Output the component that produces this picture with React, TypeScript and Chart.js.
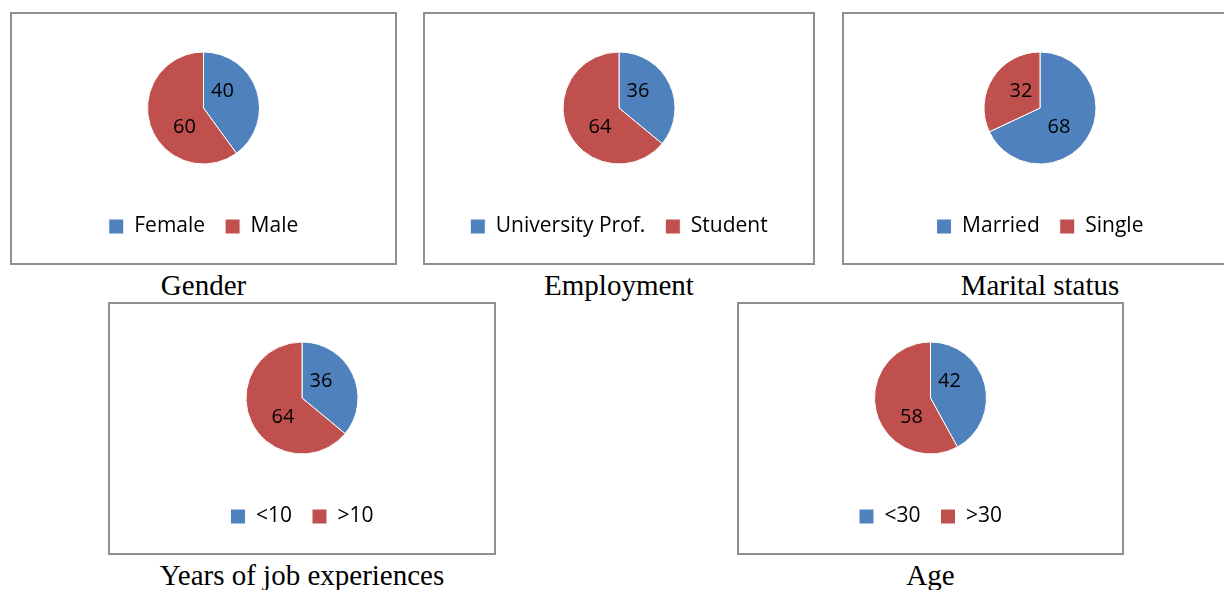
import React, { useEffect, useRef } from "react";
import { Chart, registerables } from "chart.js";

Chart.register(...registerables);

// ---- Data ----
const genderLabels = ["Female", "Male"];
const genderValues = [40, 60];

const employmentLabels = ["University Prof.", "Student"];
const employmentValues = [36, 64];

const maritalLabels = ["Married", "Single"];
const maritalValues = [68, 32];

const experienceLabels = ["<10", ">10"];
const experienceValues = [36, 64];

const ageLabels = ["<30", ">30"];
const ageValues = [42, 58];

const captions = ["Gender", "Employment", "Marital status", "Years of job experiences", "Age"];

const sliceColors = ["#4F81BD", "#C0504D"];

const FONT = "'Open Sans', 'Noto Sans', sans-serif";

const sliceLabelPlugin = {
  id: "sliceLabels",
  afterDatasetsDraw(chart: any) {
    const ctx = chart.ctx;
    const meta = chart.getDatasetMeta(0);
    const values = chart.data.datasets[0].data;
    ctx.save();
    ctx.font = `20px ${FONT}`;
    ctx.fillStyle = "#000";
    ctx.textAlign = "center";
    ctx.textBaseline = "middle";
    meta.data.forEach((arc: any, i: number) => {
      const { x, y, startAngle, endAngle, outerRadius } = arc.getProps(
        ["x", "y", "startAngle", "endAngle", "outerRadius"],
        true
      );
      const mid = (startAngle + endAngle) / 2;
      const sx = Math.cos(mid) >= 0 ? 1 : -1;
      const sy = Math.sin(mid) >= 0 ? 1 : -1;
      const lx = x + sx * outerRadius * 0.34;
      const ly = y + sy * outerRadius * 0.32 + 1;
      ctx.fillText(String(values[i]), lx, ly);
    });
    ctx.restore();
  },
};

type PieProps = {
  labels: string[];
  values: number[];
  left: number;
  top: number;
  width: number;
  height: number;
  caption: string;
};

function PieBox({ labels, values, left, top, width, height, caption }: PieProps) {
  const ref = useRef<HTMLCanvasElement | null>(null);
  useEffect(() => {
    if (!ref.current) return;
    const chart = new Chart(ref.current, {
      type: "pie",
      data: {
        labels,
        datasets: [
          {
            data: values,
            backgroundColor: sliceColors,
            borderColor: "#ffffff",
            borderWidth: 1,
            radius: 56,
          } as any,
        ],
      },
      options: {
        animation: false,
        responsive: false,
        maintainAspectRatio: false,
        layout: { padding: { top: 6, bottom: 16, left: 0, right: 0 } },
        plugins: {
          legend: {
            display: true,
            position: "bottom",
            labels: {
              boxWidth: 15,
              boxHeight: 15,
              padding: 20,
              color: "#000",
              font: { family: FONT, size: 21 },
            },
          },
          tooltip: { enabled: false },
        },
      },
      plugins: [sliceLabelPlugin],
    });
    return () => chart.destroy();
  }, []);

  const innerW = width - 4;
  const innerH = height - 4;
  return (
    <>
      <div
        style={{
          position: "absolute",
          left,
          top,
          width: innerW,
          height: innerH,
          border: "2px solid #8f8f8f",
          background: "#fff",
        }}
      >
        <canvas ref={ref} width={innerW} height={innerH} style={{ display: "block" }} />
      </div>
      <div
        style={{
          position: "absolute",
          left,
          width,
          top: top + height + 6,
          textAlign: "center",
          fontFamily: "'Liberation Serif', 'Times New Roman', serif",
          fontSize: 29,
          lineHeight: "29px",
          color: "#000",
          whiteSpace: "nowrap",
        }}
      >
        {caption}
      </div>
    </>
  );
}

export default function App() {
  return (
    <div
      style={{
        position: "absolute",
        left: 0,
        top: 0,
        width: 1224,
        height: 590,
        overflow: "hidden",
        background: "#fff",
      }}
    >
      <PieBox labels={genderLabels} values={genderValues} left={10} top={12} width={387} height={253} caption={captions[0]} />
      <PieBox labels={employmentLabels} values={employmentValues} left={423} top={12} width={392} height={253} caption={captions[1]} />
      <PieBox labels={maritalLabels} values={maritalValues} left={842} top={12} width={396} height={253} caption={captions[2]} />
      <PieBox labels={experienceLabels} values={experienceValues} left={108} top={302} width={388} height={253} caption={captions[3]} />
      <PieBox labels={ageLabels} values={ageValues} left={737} top={302} width={387} height={253} caption={captions[4]} />
    </div>
  );
}
